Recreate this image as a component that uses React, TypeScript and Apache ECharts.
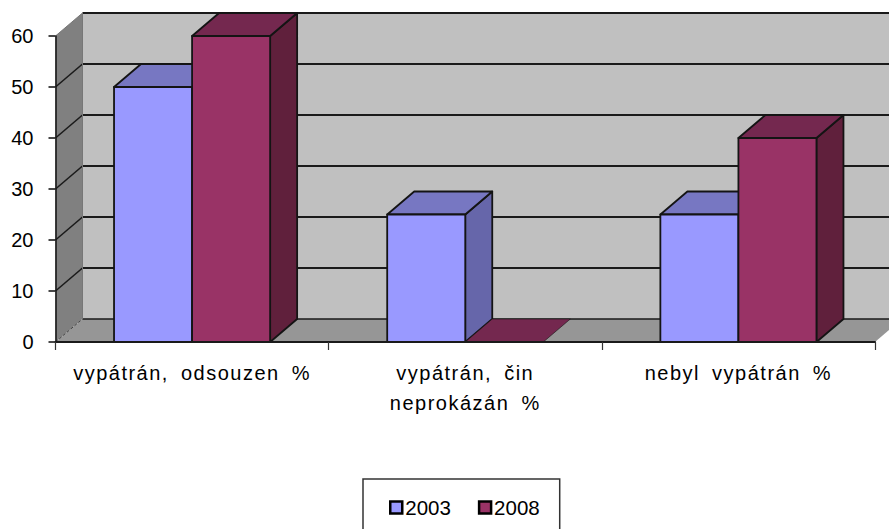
import React, { useEffect, useRef } from "react";
import * as echarts from "echarts";

const categories = ["vypátrán, odsouzen %", "vypátrán, čin\nneprokázán %", "nebyl vypátrán %"];
const years = ["2003", "2008"];
const values2003 = [50, 25, 25];
const values2008 = [60, 0, 40];
const yTicks = [0, 10, 20, 30, 40, 50, 60];

const DEPTH_X = 27;
const DEPTH_Y = 23;
const BAR_FRACTION = 2 / 7;
const LINE = "#1a1a1a";

const palette2003 = { front: "#9999ff", top: "#7777c2", side: "#6666aa" };
const palette2008 = { front: "#993366", top: "#74284f", side: "#60203c" };

function wallRenderer(params: any, api: any) {
  const cs = params.coordSys;
  const x0 = cs.x;
  const x1 = cs.x + cs.width;
  const yBottom = api.coord([0, 0])[1];
  const yTop = api.coord([0, 60])[1];
  const children: any[] = [
    {
      type: "polygon",
      shape: { points: [[x0 + DEPTH_X, yTop - DEPTH_Y], [x1 + DEPTH_X, yTop - DEPTH_Y], [x1 + DEPTH_X, yBottom - DEPTH_Y], [x0 + DEPTH_X, yBottom - DEPTH_Y]] },
      style: { fill: "#c0c0c0" },
    },
    {
      type: "polygon",
      shape: { points: [[x0, yTop], [x0 + DEPTH_X, yTop - DEPTH_Y], [x0 + DEPTH_X, yBottom - DEPTH_Y], [x0, yBottom]] },
      style: { fill: "#808080" },
    },
    {
      type: "polygon",
      shape: { points: [[x0, yBottom], [x0 + DEPTH_X, yBottom - DEPTH_Y], [x1 + DEPTH_X, yBottom - DEPTH_Y], [x1, yBottom]] },
      style: { fill: "#969696" },
    },
  ];
  yTicks.forEach((t) => {
    const y = api.coord([0, t])[1];
    children.push({
      type: "line",
      shape: { x1: x0 + DEPTH_X, y1: y - DEPTH_Y, x2: x1 + DEPTH_X, y2: y - DEPTH_Y },
      style: { stroke: LINE, lineWidth: t === 0 ? 1.4 : 2 },
    });
    children.push({
      type: "line",
      shape: { x1: x0, y1: y, x2: x0 + DEPTH_X, y2: y - DEPTH_Y },
      style: {
        stroke: t === 0 ? "#444444" : t === 60 ? "#777777" : LINE,
        lineWidth: t === 0 || t === 60 ? 1 : 1.6,
        lineDash: t === 0 ? [3, 2] : undefined,
      },
    });
  });
  children.push({
    type: "line",
    shape: { x1: x0 + DEPTH_X, y1: yTop - DEPTH_Y, x2: x0 + DEPTH_X, y2: yBottom - DEPTH_Y },
    style: { stroke: "#777777", lineWidth: 1 },
  });
  return { type: "group", children };
}

function barRenderer(seriesIndex: number, colors: any) {
  return (_params: any, api: any) => {
    const cat = api.value(0);
    const val = api.value(1);
    const center = api.coord([cat, 0]);
    const band = api.size([1, 0])[0];
    const w = band * BAR_FRACTION;
    const left = center[0] + (seriesIndex === 0 ? -w : 0);
    const right = left + w;
    const bottom = center[1];
    const top = api.coord([cat, val])[1];
    const stroke = { stroke: "#141414", lineWidth: 1.8, lineJoin: "round" };
    const children: any[] = [];
    if (val > 0) {
      children.push({
        type: "polygon",
        shape: { points: [[right, top], [right + DEPTH_X, top - DEPTH_Y], [right + DEPTH_X, bottom - DEPTH_Y], [right, bottom]] },
        style: { fill: colors.side, ...stroke },
      });
    }
    children.push({
      type: "polygon",
      shape: { points: [[left, top], [left + DEPTH_X, top - DEPTH_Y], [right + DEPTH_X, top - DEPTH_Y], [right, top]] },
      style: { fill: colors.top, ...stroke, lineWidth: val > 0 ? 1.8 : 0.6 },
    });
    if (val > 0) {
      children.push({
        type: "rect",
        shape: { x: left, y: top, width: w, height: bottom - top },
        style: { fill: colors.front, ...stroke },
      });
    }
    return { type: "group", children };
  };
}

export default function App() {
  const ref = useRef<HTMLDivElement>(null);
  useEffect(() => {
    const chart = echarts.init(ref.current!, null, { renderer: "svg" });
    chart.setOption({
      animation: false,
      backgroundColor: "#ffffff",
      grid: { left: 55.5, right: 14, top: 36, bottom: 187, containLabel: false },
      xAxis: {
        type: "category",
        data: categories,
        z: 10,
        axisLine: { lineStyle: { color: LINE, width: 2 } },
        axisTick: { show: true, length: 8, alignWithLabel: false, lineStyle: { color: "#333333", width: 1.2 } },
        axisLabel: {
          interval: 0,
          margin: 16,
          color: "#000000",
          fontFamily: "Liberation Sans",
          fontSize: 20,
          lineHeight: 30,
          hideOverlap: false,
        },
        splitLine: { show: false },
      },
      yAxis: {
        type: "value",
        min: 0,
        max: 60,
        interval: 10,
        z: 10,
        axisLine: { show: true, lineStyle: { color: LINE, width: 1.6 } },
        axisTick: { show: true, length: 7, lineStyle: { color: LINE, width: 1.6 } },
        axisLabel: { margin: 22, color: "#000000", fontFamily: "Liberation Sans", fontSize: 20 },
        splitLine: { show: false },
      },
      legend: {
        left: 363,
        top: 479,
        orient: "horizontal",
        padding: [18, 20, 40, 26],
        itemGap: 27,
        itemWidth: 12,
        itemHeight: 12,
        borderColor: "#333333",
        borderWidth: 1.5,
        backgroundColor: "#ffffff",
        textStyle: { color: "#000000", fontFamily: "Liberation Sans", fontSize: 20.5, padding: [0, 0, 0, -2] },
        data: [
          { name: years[0], icon: "rect", itemStyle: { color: palette2003.front, borderColor: "#000000", borderWidth: 2.5 } },
          { name: years[1], icon: "rect", itemStyle: { color: palette2008.front, borderColor: "#000000", borderWidth: 2.5 } },
        ],
      },
      series: [
        {
          type: "custom",
          name: "walls",
          z: 1,
          silent: true,
          clip: false,
          renderItem: wallRenderer,
          data: [[0, 0]],
          encode: { x: 0, y: 1 },
        },
        {
          type: "custom",
          name: years[0],
          z: 2,
          clip: false,
          renderItem: barRenderer(0, palette2003),
          itemStyle: { color: palette2003.front },
          data: values2003.map((v, i) => [i, v]),
          encode: { x: 0, y: 1 },
        },
        {
          type: "custom",
          name: years[1],
          z: 3,
          clip: false,
          renderItem: barRenderer(1, palette2008),
          itemStyle: { color: palette2008.front },
          data: values2008.map((v, i) => [i, v]),
          encode: { x: 0, y: 1 },
        },
      ],
    });
    // The reference's category labels are widely tracked.
    const lines = categories.flatMap((c) => c.split("\n"));
    ref.current!.querySelectorAll("text").forEach((t: any) => {
      if (lines.includes((t.textContent || "").trim())) {
        t.style.letterSpacing = "1.5px";
        t.style.wordSpacing = "5px";
      }
    });
    return () => chart.dispose();
  }, []);
  return <div ref={ref} style={{ position: "fixed", left: 0, top: 0, width: 889, height: 529 }} />;
}
